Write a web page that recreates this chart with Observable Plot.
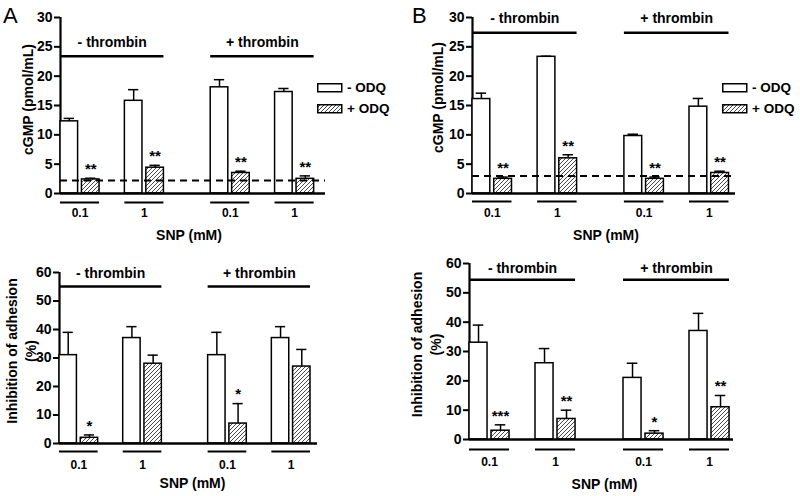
<!DOCTYPE html>
<html>
<head>
<meta charset="utf-8">
<script src="https://cdn.jsdelivr.net/npm/d3@7"></script>
<script src="https://cdn.jsdelivr.net/npm/@observablehq/plot@0.6"></script>
<style>
  body { margin: 0; background: white; }
  #fig { position: relative; width: 800px; height: 496px; background: white; overflow: hidden;
         font-family: "Liberation Sans", Arial, sans-serif; }
  .panel { position: absolute; }
  .letter { position: absolute; font-size: 22px; font-weight: normal; color: black; line-height: 1; }
</style>
</head>
<body>
<svg width="0" height="0" style="position:absolute">
  <defs>
    <pattern id="hatch" patternUnits="userSpaceOnUse" width="4" height="4">
      <rect width="4" height="4" fill="white"></rect>
      <path d="M-1,1 l2,-2 M0,4 l4,-4 M3,5 l2,-2" stroke="#333" stroke-width="0.9"></path>
    </pattern>
  </defs>
</svg>
<div id="fig"></div>
<script>
// ---- categories ----
const thrombin = ["- thrombin", "+ thrombin"];
const snp = ["0.1", "1"];
const odq = ["- ODQ", "+ ODQ"];

// ---- values (order: -thr/0.1/-ODQ, -thr/0.1/+ODQ, -thr/1/-ODQ, -thr/1/+ODQ, +thr/0.1/..., +thr/1/...) ----
const cgmpA = [12.3, 2.4, 15.8, 4.4, 18.1, 3.5, 17.3, 2.5];
const cgmpASem = [0.5, 0.2, 1.9, 0.4, 1.3, 0.3, 0.6, 0.5];
const cgmpASig = ["", "**", "", "**", "", "**", "", "**"];
const cgmpABasal = 2.2;

const cgmpB = [16.1, 2.5, 23.3, 6.0, 9.8, 2.5, 14.8, 3.5];
const cgmpBSem = [1.0, 0.3, 0.1, 0.6, 0.3, 0.3, 1.4, 0.3];
const cgmpBSig = ["", "**", "", "**", "", "**", "", "**"];
const cgmpBBasal = 3.0;

const adhA = [31, 2, 37, 28, 31, 7, 37, 27];
const adhASem = [8, 1, 4, 3, 8, 7, 4, 6];
const adhASig = ["", "*", "", "", "", "*", "", ""];

const adhB = [33, 3, 26, 7, 21, 2, 37, 11];
const adhBSem = [6, 2, 5, 3, 5, 1, 6, 4];
const adhBSig = ["", "***", "", "**", "", "*", "", "**"];

const cgmpTicks = [0, 5, 10, 15, 20, 25, 30];
const adhTicks = [0, 10, 20, 30, 40, 50, 60];

// ---- build tables ----
const BW = 0.82; // bar width in slot units
const slotOf = (t, s, o) => t * 7 + s * 3 + o;
function rows(values, sems, sigs) {
  return values.map((v, i) => {
    const t = Math.floor(i / 4), s = Math.floor(i / 2) % 2, o = i % 2;
    return {thrombin: thrombin[t], snp: snp[s], odq: odq[o], slot: slotOf(t, s, o),
            value: v, sem: sems[i], sig: sigs[i]};
  });
}
const thrGroups = thrombin.map((label, t) => ({label, x1: slotOf(t, 0, 0), x2: slotOf(t, 1, 1) + BW}));
const snpGroups = [];
thrombin.forEach((_, t) => snp.forEach((label, s) =>
  snpGroups.push({label, x1: slotOf(t, s, 0), x2: slotOf(t, s, 1) + BW})));

const FONT = '"Liberation Sans", Arial, sans-serif';

const panels = [
  {letter: "A", left: 0, top: 0, data: rows(cgmpA, cgmpASem, cgmpASig), basal: cgmpABasal,
   ticks: cgmpTicks, ylabel: "cGMP (pmol/mL)", m: [17, 75, 55, 60], xMax: 12.35,
   thrY: 23.4, thrTextY: 25.7, labDx: -34, labDy: -6, subDy: 9, subLabDy: 20, snpDy: 46, snpDx: -4,
   legend: {x: 317, y: 83}, letterPos: [3, 5]},
  {letter: "B", left: 400, top: 0, data: rows(cgmpB, cgmpBSem, cgmpBSig), basal: cgmpBBasal,
   ticks: cgmpTicks, ylabel: "cGMP (pmol/mL)", m: [17, 65, 55, 72], xMax: 12.12,
   thrY: 27.4, thrTextY: 29.8, labDx: -36, labDy: -8, subDy: 8, subLabDy: 20, snpDy: 46, snpDx: 2,
   legend: {x: 322, y: 83}, letterPos: [12, 5]},
  {letter: null, left: 0, top: 248, data: rows(adhA, adhASem, adhASig), basal: null,
   ticks: adhTicks, ylabel: "Inhibition of adhesion\n(%)", m: [24, 83, 53, 59], xMax: 12.15,
   thrY: 55.1, thrTextY: 59.6, labDx: -39, labDy: -7, subDy: 8, subLabDy: 22, snpDy: 44, snpDx: 4},
  {letter: null, left: 400, top: 248, data: rows(adhB, adhBSem, adhBSig), basal: null,
   ticks: adhTicks, ylabel: "Inhibition of adhesion\n(%)", m: [15, 67, 57, 69], xMax: 12.0,
   thrY: 54.5, thrTextY: 58.3, labDx: -44, labDy: -7, subDy: 10, subLabDy: 23, snpDy: 49, snpDx: 3}
];

const fig = document.getElementById("fig");

for (const p of panels) {
  const [mt, mr, mb, ml] = p.m;
  const yMax = p.ticks[p.ticks.length - 1];
  const open = p.data.filter(d => d.odq === odq[0]);
  const hatched = p.data.filter(d => d.odq === odq[1]);
  const marks = [
    Plot.axisY({ticks: p.ticks, tickSize: 6, tickPadding: 2, strokeWidth: 2, label: null, fontSize: 14}),
    Plot.ruleX([0], {y1: 0, y2: yMax, strokeWidth: 2.2}),
    Plot.rect(open, {x1: "slot", x2: d => d.slot + BW, y1: 0, y2: "value", fill: "white", stroke: "black", strokeWidth: 1.5}),
    Plot.rect(hatched, {x1: "slot", x2: d => d.slot + BW, y1: 0, y2: "value", fill: "url(#hatch)", stroke: "black", strokeWidth: 1.5}),
    Plot.ruleX(p.data, {x: d => d.slot + BW / 2, y1: "value", y2: d => d.value + d.sem, strokeWidth: 1.5}),
    Plot.ruleY(p.data, {y: d => d.value + d.sem, x1: d => d.slot + BW / 2 - 0.24, x2: d => d.slot + BW / 2 + 0.24, strokeWidth: 1.5}),
    Plot.text(p.data.filter(d => d.sig), {x: d => d.slot + BW / 2, y: d => d.value + d.sem, text: "sig", dy: -9, fontSize: 15}),
    Plot.ruleY([0], {strokeWidth: 2.5}),
    Plot.ruleY(thrGroups, {y: p.thrY, x1: "x1", x2: "x2", strokeWidth: 2.5}),
    Plot.text(thrGroups, {x: d => (d.x1 + d.x2) / 2, y: p.thrTextY, text: "label", fontSize: 14}),
    Plot.ruleY(snpGroups, {y: 0, x1: "x1", x2: "x2", dy: p.subDy, strokeWidth: 2}),
    Plot.text(snpGroups, {x: d => (d.x1 + d.x2) / 2, y: 0, dy: p.subLabDy, text: "label", fontSize: 12}),
    Plot.text(["SNP (mM)"], {frameAnchor: "bottom", dy: p.snpDy, dx: p.snpDx, fontSize: 14}),
    Plot.text([p.ylabel], {frameAnchor: "left", textAnchor: "middle", lineAnchor: "middle", rotate: -90,
                           dx: p.labDx, dy: p.labDy, fontSize: 14, lineHeight: 1.35})
  ];
  if (p.basal != null) {
    marks.push(Plot.ruleY([p.basal], {strokeWidth: 2, strokeDasharray: "7,5"}));
  }
  const chart = Plot.plot({
    width: 400, height: 248,
    marginTop: mt, marginRight: mr, marginBottom: mb, marginLeft: ml,
    x: {domain: [0, p.xMax], axis: null},
    y: {domain: [0, yMax], axis: null},
    style: {fontFamily: FONT, fontSize: "14px", fontWeight: "bold", color: "black", background: "transparent", overflow: "visible"},
    marks
  });
  chart.classList.add("panel");
  chart.style.left = p.left + "px";
  chart.style.top = p.top + "px";
  fig.appendChild(chart);

  if (p.legend) {
    const pad = 6;
    const lg = d3.select(fig).append("svg").attr("class", "panel")
      .style("left", (p.left + p.legend.x) + "px").style("top", (p.top + p.legend.y - pad) + "px")
      .attr("width", 76).attr("height", 46)
      .style("font-family", FONT).style("font-weight", "bold").style("font-size", "13.5px");
    odq.forEach((label, i) => {
      const g = lg.append("g").attr("transform", `translate(0,${pad + i * 21})`);
      g.append("rect").attr("x", 0.75).attr("y", 0.75).attr("width", 24).attr("height", 8)
        .attr("fill", i === 0 ? "white" : "url(#hatch)").attr("stroke", "black").attr("stroke-width", 1.5);
      g.append("text").attr("x", 30).attr("y", 4.5).attr("dy", "0.35em").text(label);
    });
  }
  if (p.letter) {
    const el = document.createElement("div");
    el.className = "letter";
    el.textContent = p.letter;
    el.style.left = (p.left + p.letterPos[0]) + "px";
    el.style.top = (p.top + p.letterPos[1]) + "px";
    fig.appendChild(el);
  }
}
</script>
</body>
</html>
